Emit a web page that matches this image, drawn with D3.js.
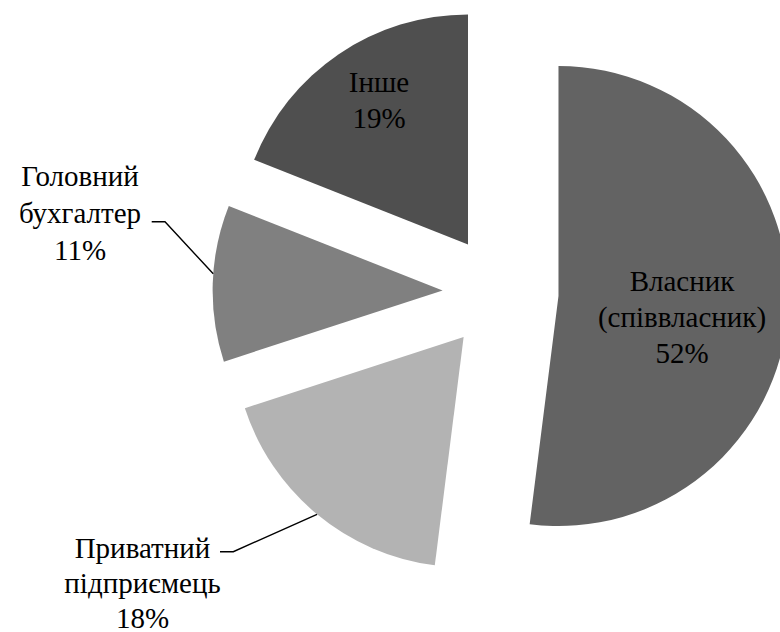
<!DOCTYPE html>
<html lang="uk">
<head>
<meta charset="utf-8">
<script src="https://cdn.jsdelivr.net/npm/d3@7"></script>
<style>
  html, body { margin: 0; padding: 0; background: #fff; }
  #wrap { position: relative; width: 780px; height: 632px; overflow: hidden; }
  #wrap svg { position: absolute; left: 0; top: 0; display: block; }
  .lbl { position: absolute; white-space: nowrap; font-family: "Liberation Serif", Tinos, "Times New Roman", serif; font-size: 29px; line-height: 36px; height: 36px; color: #000; transform: translateX(-50%); }
</style>
</head>
<body>
<div id="wrap"><svg id="chart" width="780" height="632"></svg></div>
<script>
// ---- data ----
const categories = ["Власник (співвласник)", "Приватний підприємець", "Головний бухгалтер", "Інше"];
const values = [52, 18, 11, 19];
const labelLines = [["Власник", "(співвласник)"], ["Приватний", "підприємець"], ["Головний", "бухгалтер"], ["Інше"]];
const colors = ["#636363", "#b3b3b3", "#808080", "#4f4f4f"];

// ---- layout (positions, not data) ----
const W = 780, H = 632;
const cx = 500.6, cy = 292.4, R = 230, explode = 58;
const baselineOffset = 27.8; // distance from line-box top to baseline (29px Liberation Serif, 36px line)
const labelPos = [
  { x: 682, y: 291, lh: 36, leader: null },
  { x: 142.5, y: 558, lh: 35, leader: { x0: 220, y0: 551.7, x1: 233.3, frac: 0.5 } },
  { x: 80, y: 186, lh: 37, leader: { x0: 151.7, y0: 221.7, x1: 165, frac: 0.56 } },
  { x: 379, y: 91.7, lh: 35.6, leader: null }
];

const svg = d3.select("#chart");
svg.append("rect").attr("width", W).attr("height", H).attr("fill", "#fff");

const rows = categories.map((c, i) => ({ cat: c, value: values[i] }));
const pieGen = d3.pie().sort(null).value(d => d.value).startAngle(0).endAngle(2 * Math.PI);
const slices = pieGen(rows);
const arcGen = d3.arc().innerRadius(0).outerRadius(R);

slices.forEach((a, i) => {
  const mid = (a.startAngle + a.endAngle) / 2;
  a.ox = cx + explode * Math.sin(mid);
  a.oy = cy - explode * Math.cos(mid);
  svg.append("path")
    .attr("d", arcGen(a))
    .attr("transform", `translate(${a.ox},${a.oy})`)
    .attr("fill", colors[i]);
});

slices.forEach((a, i) => {
  const L = labelPos[i].leader;
  if (!L) return;
  const ang = a.startAngle + (a.endAngle - a.startAngle) * L.frac;
  const px = a.ox + R * Math.sin(ang);
  const py = a.oy - R * Math.cos(ang);
  svg.append("polyline")
    .attr("points", `${L.x0},${L.y0} ${L.x1},${L.y0} ${px},${py}`)
    .attr("fill", "none")
    .attr("stroke", "#000")
    .attr("stroke-width", 1.4);
});

const wrap = d3.select("#wrap");
slices.forEach((a, i) => {
  const p = labelPos[i];
  const lines = labelLines[i].concat([values[i] + "%"]);
  lines.forEach((ln, k) => {
    wrap.append("div")
      .attr("class", "lbl")
      .style("left", p.x + "px")
      .style("top", (p.y + k * p.lh - baselineOffset) + "px")
      .text(ln);
  });
});
</script>
</body>
</html>
